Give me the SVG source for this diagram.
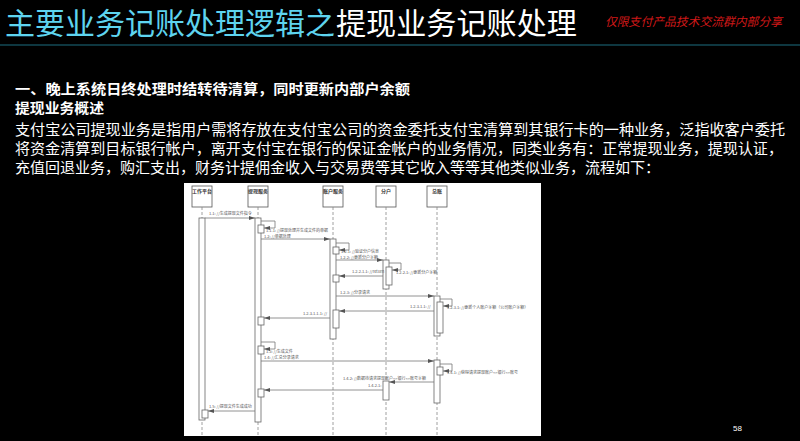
<svg xmlns="http://www.w3.org/2000/svg" width="800" height="441" viewBox="0 0 800 441">
<defs>
<marker id="ah" markerWidth="6" markerHeight="4" refX="6" refY="2" orient="auto" markerUnits="userSpaceOnUse">
<polygon points="0,0 6,2 0,4" fill="#555"/>
</marker>
<style>
.cjk{font-family:"Noto Sans CJK SC","Liberation Sans",sans-serif}
.t1{font-size:30px;fill:#5ed4ef}
.t2{font-size:30px;fill:#ffffff}
.red{font-size:12px;fill:#d01818;font-style:italic}
.hb{font-size:14px;fill:#ffffff;font-weight:bold}
.p{font-size:15px;fill:#ffffff}
.box{fill:#fff;stroke:#555;stroke-width:0.8}
.bl{font-size:5px;fill:#333;font-weight:bold;text-anchor:middle}
.life{stroke:#888;stroke-width:0.8;stroke-dasharray:3,2;fill:none}
.act{fill:#fff;stroke:#666;stroke-width:0.8}
.msg{stroke:#777;stroke-width:0.8;fill:none;marker-end:url(#ah)}
.lb{font-size:4px;fill:#555}
</style>
</defs>
<rect x="0" y="0" width="800" height="441" fill="#000"/>
<g id="title">
<text class="cjk t1" x="5" y="34" textLength="330" lengthAdjust="spacingAndGlyphs">主要业务记账处理逻辑之</text>
<text class="cjk t2" x="336" y="34" textLength="241" lengthAdjust="spacingAndGlyphs">提现业务记账处理</text>
<text class="cjk red" x="605" y="26" textLength="177" lengthAdjust="spacingAndGlyphs">仅限支付产品技术交流群内部分享</text>
<line x1="0" y1="45" x2="800" y2="45" stroke="#1d6f80" stroke-width="1"/>
</g>
<g id="body">
<text class="cjk hb" x="15" y="94" textLength="395" lengthAdjust="spacingAndGlyphs">一、晚上系统日终处理时结转待清算，同时更新内部户余额</text>
<text class="cjk hb" x="15" y="113" textLength="89" lengthAdjust="spacingAndGlyphs">提现业务概述</text>
<text class="cjk p" x="15" y="135" textLength="770" lengthAdjust="spacingAndGlyphs">支付宝公司提现业务是指用户需将存放在支付宝公司的资金委托支付宝清算到其银行卡的一种业务，泛指收客户委托</text>
<text class="cjk p" x="15" y="154" textLength="768" lengthAdjust="spacingAndGlyphs">将资金清算到目标银行帐户，离开支付宝在银行的保证金帐户的业务情况，同类业务有：正常提现业务，提现认证，</text>
<text class="cjk p" x="15" y="173" textLength="645" lengthAdjust="spacingAndGlyphs">充值回退业务，购汇支出，财务计提佣金收入与交易费等其它收入等等其他类似业务，流程如下：</text>
</g>
<rect x="184" y="183" width="357" height="253" fill="#fff"/>
<g id="p1"><rect class="box" x="192" y="186" width="20" height="21"/><text class="cjk bl" x="202" y="193">工作平台</text><line class="life" x1="202" y1="207" x2="202" y2="436"/></g>
<g id="p2"><rect class="box" x="248" y="186" width="20" height="21"/><text class="cjk bl" x="258" y="193">提现服务</text><line class="life" x1="258" y1="207" x2="258" y2="436"/></g>
<g id="p3"><rect class="box" x="323" y="186" width="20" height="21"/><text class="cjk bl" x="333" y="193">账户服务</text><line class="life" x1="333" y1="207" x2="333" y2="436"/></g>
<g id="p4"><rect class="box" x="376" y="186" width="20" height="21"/><text class="cjk bl" x="386" y="193">分户</text><line class="life" x1="386" y1="207" x2="386" y2="436"/></g>
<g id="p5"><rect class="box" x="427" y="186" width="20" height="21"/><text class="cjk bl" x="437" y="193">总账</text><line class="life" x1="437" y1="207" x2="437" y2="436"/></g>
<g id="activations">
<rect class="act" x="199" y="218" width="6" height="202"/>
<rect class="act" x="202" y="410" width="6" height="8"/>
<rect class="act" x="255" y="218" width="6" height="204"/>
<rect class="act" x="258" y="225" width="6" height="8"/>
<rect class="act" x="258" y="317" width="6" height="8"/>
<rect class="act" x="258" y="346" width="6" height="8"/>
<rect class="act" x="258" y="389" width="6" height="8"/>
<rect class="act" x="330" y="239" width="6" height="100"/>
<rect class="act" x="333" y="247" width="6" height="7"/>
<rect class="act" x="333" y="275" width="6" height="7"/>
<rect class="act" x="333" y="310" width="6" height="18"/>
<rect class="act" x="383" y="260" width="6" height="29"/>
<rect class="act" x="386" y="267" width="6" height="18"/>
<rect class="act" x="383" y="381" width="6" height="19"/>
<rect class="act" x="434" y="296" width="6" height="40"/>
<rect class="act" x="437" y="302" width="6" height="31"/>
<rect class="act" x="434" y="360" width="6" height="43"/>
<rect class="act" x="437" y="367" width="6" height="8"/>
</g>
<g id="connectors">
<line class="msg" x1="205" y1="218" x2="255" y2="218"/>
<path class="msg" d="M261,221 H275 V228 H264"/>
<line class="msg" x1="261" y1="239" x2="330" y2="239"/>
<path class="msg" d="M336,243 H349 V250 H339"/>
<line class="msg" x1="336" y1="260" x2="383" y2="260"/>
<path class="msg" d="M389,263 H401 V270 H392"/>
<line class="msg" x1="383" y1="276" x2="339" y2="276"/>
<line class="msg" x1="336" y1="296" x2="434" y2="296"/>
<path class="msg" d="M440,299 H452 V306 H443"/>
<line class="msg" x1="434" y1="311" x2="339" y2="311"/>
<line class="msg" x1="330" y1="318" x2="264" y2="318"/>
<path class="msg" d="M261,342 H275 V349 H264"/>
<line class="msg" x1="261" y1="361" x2="434" y2="361"/>
<path class="msg" d="M440,364 H452 V371 H443"/>
<line class="msg" x1="434" y1="382" x2="389" y2="382"/>
<line class="msg" x1="383" y1="390" x2="264" y2="390"/>
<line class="msg" x1="255" y1="411" x2="208" y2="411"/>
</g>
<g id="labels">
<text class="cjk lb" x="209" y="215">1.1: //生成提现文件指令</text>
<text class="cjk lb" x="266" y="231.5">1.1.1: //提现处理并生成文件的单据</text>
<text class="cjk lb" x="264" y="237.5">1.2: //单据处理</text>
<text class="cjk lb" x="341" y="253">1.2.1: //验证分户信息</text>
<text class="cjk lb" x="340" y="258.5">1.2.2: //更新分户余额</text>
<text class="cjk lb" x="396" y="274">1.2.2.1: //更新分户余额</text>
<text class="cjk lb" x="352" y="273">1.2.2.1.1: //return</text>
<text class="cjk lb" x="340" y="294">1.2.3: //分录请求</text>
<text class="cjk lb" x="447" y="309">1.2.3.1: //更新个人账户余额（公司账户余额）</text>
<text class="cjk lb" x="410" y="308">1.2.3.1.1: //</text>
<text class="cjk lb" x="303" y="315">1.2.3.1.1.1: //</text>
<text class="cjk lb" x="266" y="353">1.3: //生成文件</text>
<text class="cjk lb" x="264" y="358.5">1.4: //汇总分录请求</text>
<text class="cjk lb" x="447" y="374">1.4.1: //获得请求提现账户&lt;&gt;银行&lt;&gt;账号</text>
<text class="cjk lb" x="343" y="380">1.4.2: //数据待请求提现账户&lt;&gt;银行&lt;&gt;账号余额</text>
<text class="cjk lb" x="368" y="387">1.4.2.1:</text>
<text class="cjk lb" x="209" y="408">1.5: //提现文件生成成功</text>
</g>
<text x="733" y="431" font-family="Liberation Sans, sans-serif" font-size="8" fill="#fff">58</text>
</svg>
